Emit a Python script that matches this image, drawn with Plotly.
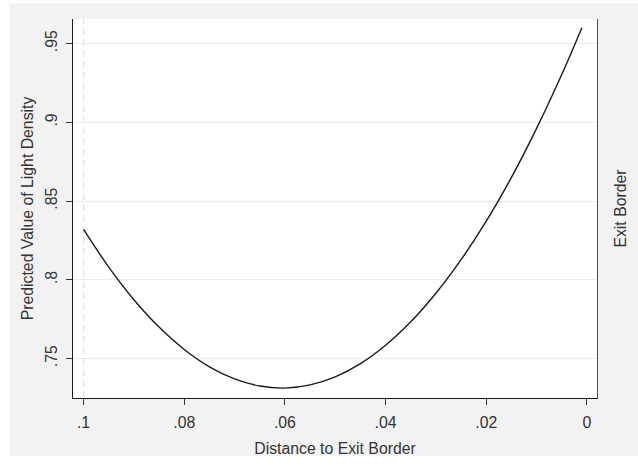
import plotly.graph_objects as go

# Data (predicted value at each distance)
distance = [0.100, 0.095, 0.090, 0.085, 0.080, 0.075, 0.070, 0.065, 0.060, 0.055, 0.050,
            0.045, 0.040, 0.035, 0.030, 0.025, 0.020, 0.015, 0.010, 0.005, 0.001]
predicted = [0.8320, 0.8081, 0.7874, 0.7700, 0.7558, 0.7448, 0.7371, 0.7326, 0.7313, 0.7333, 0.7384,
             0.7468, 0.7585, 0.7734, 0.7915, 0.8128, 0.8373, 0.8651, 0.8962, 0.9304, 0.9601]

x_ticks = [0.1, 0.08, 0.06, 0.04, 0.02, 0.0]
x_tick_labels = [".1", ".08", ".06", ".04", ".02", "0"]
y_ticks = [0.75, 0.8, 0.85, 0.9, 0.95]
y_tick_labels = [".75", ".8", ".85", ".9", ".95"]
ref_line_x = 0.1

FONT = "Liberation Sans, Arial, sans-serif"
TXT = "#333333"
FS = 15.8

fig = go.Figure()
fig.add_trace(go.Scatter(
    x=distance, y=predicted, mode="lines",
    line=dict(color="#1a1a1a", width=1.4, shape="spline", smoothing=1.0),
    showlegend=False, hoverinfo="skip",
))
# invisible trace to activate the right axis
fig.add_trace(go.Scatter(x=[distance[0]], y=[predicted[0]], yaxis="y2", mode="markers",
                         marker=dict(opacity=0), showlegend=False, hoverinfo="skip"))

fig.add_shape(type="line", x0=ref_line_x, x1=ref_line_x, y0=0, y1=1, xref="x", yref="paper",
              line=dict(color="#e3e3e3", width=1.5, dash="7px,4px"), layer="below")

# white strips at the outer edges
fig.add_shape(type="rect", xref="paper", yref="paper", x0=-1, x1=(10 - 73.3) / 523.4, y0=-1, y1=2,
              fillcolor="white", line=dict(width=0), layer="below")
fig.add_shape(type="rect", xref="paper", yref="paper", x0=-1, x1=2, y0=1 + 16 / 385.3, y1=2,
              fillcolor="white", line=dict(width=0), layer="below")
fig.add_shape(type="rect", xref="paper", yref="paper", x0=-1, x1=2, y0=-1, y1=-(58.7 / 385.3),
              fillcolor="white", line=dict(width=0), layer="below")

fig.update_layout(
    width=638, height=466,
    margin=dict(l=73.3, r=41.3, t=19, b=61.7),
    paper_bgcolor="#f2f2f2", plot_bgcolor="white",
    font=dict(family=FONT, size=FS, color=TXT),
    xaxis=dict(
        range=[0.1021, -0.002], tickmode="array", tickvals=x_ticks, ticktext=x_tick_labels,
        showgrid=False, zeroline=False, showline=True, linecolor="#1a1a1a", linewidth=1.3,
        ticks="outside", ticklen=6, tickcolor="#333333", tickwidth=1.2, ticklabelstandoff=4,
        tickfont=dict(size=FS, color=TXT),
        title=dict(text="Distance to Exit Border", font=dict(size=FS, color=TXT), standoff=12),
    ),
    yaxis=dict(
        range=[0.725, 0.9656], tickmode="array", tickvals=y_ticks, ticktext=y_tick_labels,
        showgrid=True, gridcolor="#ebebeb", gridwidth=1, zeroline=False,
        showline=True, linecolor="#1a1a1a", linewidth=1.3,
        ticks="outside", ticklen=6, tickcolor="#333333", tickwidth=1.2, tickangle=-90,
        ticklabelstandoff=3,
        tickfont=dict(size=FS, color=TXT),
        title=dict(text="Predicted Value of Light Density", font=dict(size=FS, color=TXT), standoff=5),
    ),
    yaxis2=dict(
        overlaying="y", side="right", range=[0.725, 0.9656], showgrid=False, zeroline=False,
        showline=True, linecolor="#4d4d4d", linewidth=1.3, showticklabels=False, ticks="",
        title=dict(text="Exit Border", font=dict(size=FS, color=TXT), standoff=17),
    ),
)

fig.write_html("out.html")
